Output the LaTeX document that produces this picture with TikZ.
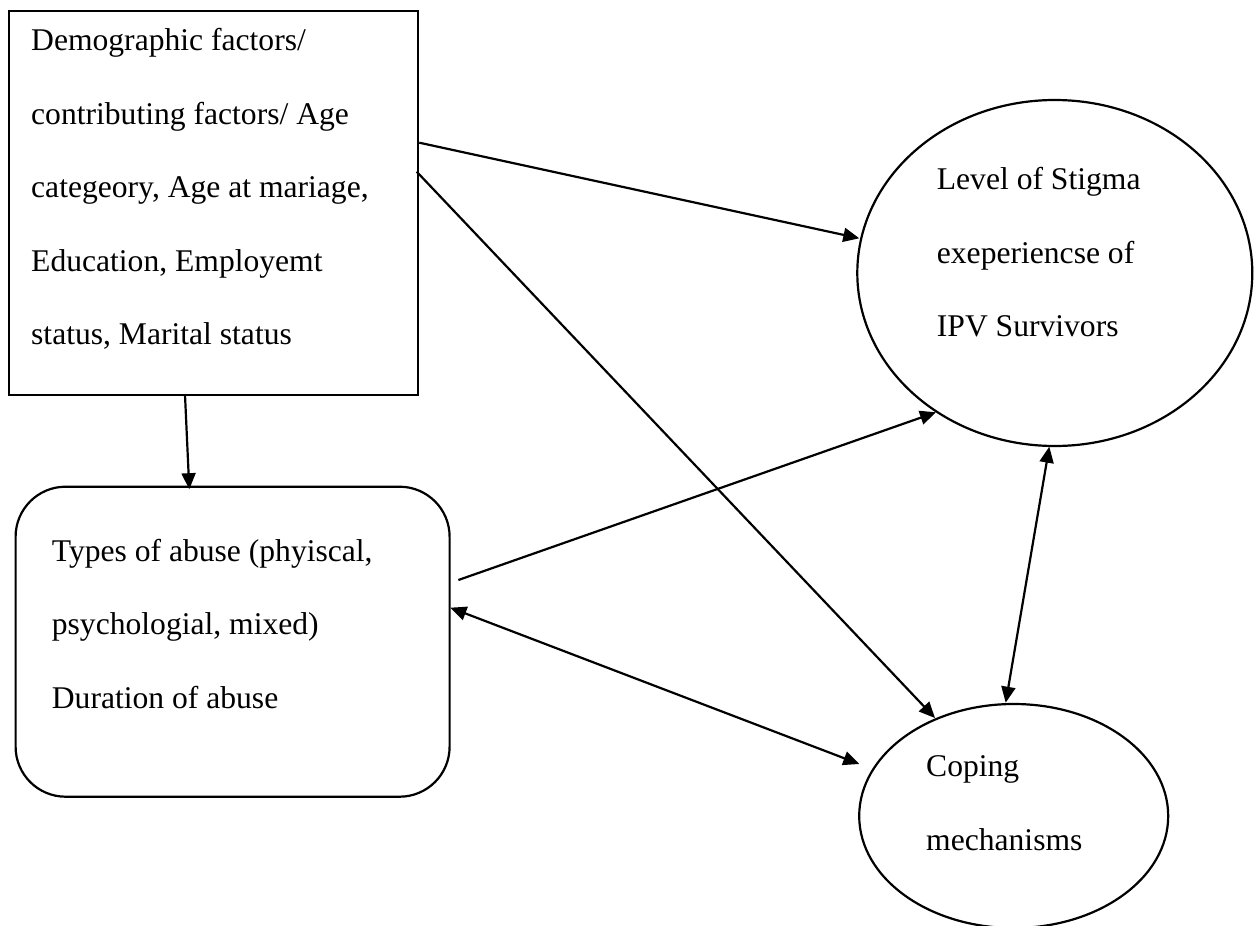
\documentclass[tikz,border=0pt]{standalone}
\usepackage{fontspec}
\setmainfont{Liberation Serif}
\usetikzlibrary{arrows.meta,shapes.geometric,calc}
\begin{document}
\begin{tikzpicture}[x=1pt,y=-1pt,
  shapebox/.style={draw,line width=2.2pt,inner sep=0pt,outer sep=0pt},
  lbl/.style={anchor=base west,inner sep=0pt,align=left,font=\fontsize{31.6}{73.5}\selectfont},
  link/.style={line width=2.2pt,-{Triangle[length=16pt,width=14pt]}},
  dlink/.style={line width=2.2pt,{Triangle[length=16pt,width=14pt]}-{Triangle[length=16pt,width=14pt]}}]
\useasboundingbox[fill=white] (0,0) rectangle (1256,926);

% shapes
\node[shapebox,rectangle,minimum width=409pt,minimum height=384pt] (demo) at (213.5,203) {};
\node[shapebox,rectangle,rounded corners=50pt,minimum width=434pt,minimum height=310pt] (types) at (232.6,641.7) {};
\node[shapebox,ellipse,minimum width=395pt,minimum height=346pt] (stigma) at (1054.8,273) {};
\node[shapebox,ellipse,minimum width=309pt,minimum height=224pt] (coping) at (1013.7,816) {};

% texts (anchored at the baseline of the last line)
\node[lbl] (demotext) at (31,344.5) {Demographic factors/\\contributing factors/ Age\\categeory, Age at mariage,\\Education, Employemt\\status, Marital status};
\node[lbl] (typestext) at (51.7,708) {Types of abuse (phyiscal,\\psychologial, mixed)\\Duration of abuse};
\node[lbl] (stigmatext) at (936.7,336.7) {Level of Stigma\\exeperiencse of\\IPV Survivors};
\node[lbl] (copingtext) at (926,850) {Coping\\mechanisms};

% connectors
\draw[link] ($(demo.north east)+(1.3,131.7)$) -- ($(stigma.center)+(-195.5,-34.7)$);
\draw[link] ($(demo.north east)+(-1.3,160.7)$) -- ($(coping.center)+(-78.7,-98)$);
\draw[link] ($(demo.south)+(-28.5,0)$) -- ($(types.north)+(-43.3,2.5)$);
\draw[link] ($(types.east)+(8.8,-61.7)$) -- ($(stigma.center)+(-118.8,139.3)$);
\draw[dlink] ($(types.east)+(0.8,-34)$) -- ($(coping.center)+(-154.4,-52)$);
\draw[dlink] ($(stigma.south)+(-5.5,0.7)$) -- ($(coping.north)+(-8,-1.3)$);
\end{tikzpicture}
\end{document}
